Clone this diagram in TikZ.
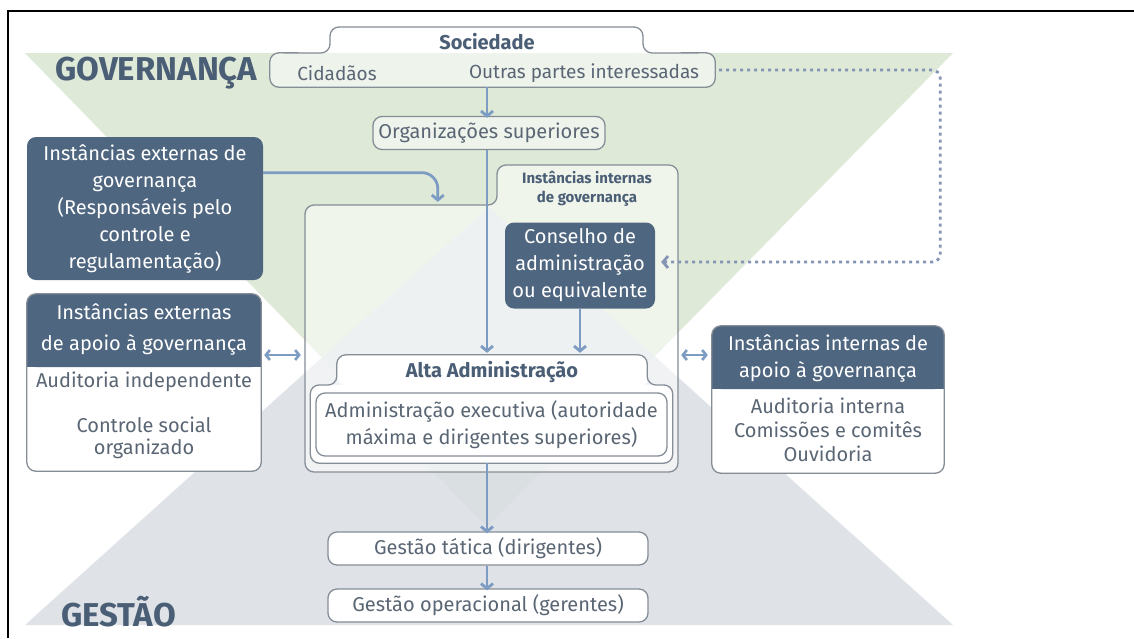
\documentclass[tikz,border=0pt]{standalone}
\usepackage{fontspec}
\setmainfont{Fira Sans}
\usetikzlibrary{arrows.meta,calc}

\definecolor{govgreen}{HTML}{DEE9D7}
\definecolor{gestgray}{HTML}{DADFE4}
\definecolor{slate}{HTML}{4F6680}
\definecolor{ink}{HTML}{4A5E75}
\definecolor{soft}{HTML}{5A6674}
\definecolor{edge}{HTML}{858D96}
\definecolor{flow}{HTML}{7C9CC3}
\definecolor{dots}{HTML}{8595B4}
\definecolor{pale}{HTML}{EEF3EC}

\tikzset{
  darkbox/.style={fill=slate, text=white, rounded corners=9pt, align=center,
    inner sep=0pt, font=\fontsize{20}{27}\selectfont},
  litebox/.style={draw=edge, line width=1.3pt, fill=white, rounded corners=9pt,
    inner sep=0pt, text=soft, align=center, font=\fontsize{20}{27}\selectfont},
  frameonly/.style={draw=none, inner sep=0pt},
  outline/.style={draw=edge, line width=1.3pt, rounded corners=9pt},
  lbl/.style={text=soft, inner sep=0pt, font=\fontsize{20}{24}\selectfont, align=center},
  boldlbl/.style={text=ink, inner sep=0pt, font=\bfseries\fontsize{20}{24}\selectfont, align=center},
  bigword/.style={text=ink, inner sep=0pt, font=\bfseries\fontsize{33}{34}\selectfont},
  flowarrow/.style={draw=flow, line width=2.8pt,
    -{Straight Barb[length=5pt,width=12pt]}},
  twoway/.style={draw=flow, line width=2.6pt,
    {Straight Barb[length=4pt,width=10pt]}-{Straight Barb[length=4pt,width=10pt]}},
  dotline/.style={draw=dots, line width=2.8pt, dash pattern=on 3pt off 4pt,
    rounded corners=8pt, -{Straight Barb[length=5pt,width=12pt]}},
}

\begin{document}
\begin{tikzpicture}[x=1pt,y=-1pt]
\useasboundingbox (0,0) rectangle (1134,638);
\fill[white] (0,0) rectangle (1134,638);

% background triangles: governance (down) and management (up)
\fill[govgreen] (25,53) -- (953,53) -- (487,527) -- cycle;
\fill[gestgray, fill opacity=0.85] (25,625) -- (953,625) -- (489,207) -- cycle;

% outer frame
\draw[black, line width=1.2pt] (8,638) -- (8,11) -- (1134,11);

\coordinate (spine) at (487,0);
\coordinate (lvl) at (0,355);

% big words
\node[bigword, anchor=west] (gov) at (55,73) {GOVERNANÇA};
\node[bigword, anchor=west] (gest) at (61,612) {GESTÃO};

% Sociedade
\node[frameonly, minimum width=445pt, minimum height=34pt] (socbox) at (492.5,70) {};
\fill[pale, rounded corners=9pt] (socbox.south west) rectangle (socbox.north east);
\fill[white, rounded corners=9pt] (330,53) -- (330,27) -- (643,27) -- (643,53) -- cycle;
\draw[outline] (socbox.south west) -- (socbox.north west) -- (330,53) -- (330,27)
  -- (643,27) -- (643,53) -- (socbox.north east) -- (socbox.south east) -- cycle;
\node[boldlbl] (soc) at (487,42) {Sociedade};
\node[lbl, font=\fontsize{19}{24}\selectfont] (cid) at (337,73) {Cidadãos};
\node[lbl, font=\fontsize{19}{24}\selectfont] (outras) at (584,73) {Outras partes interessadas};

% Organizações superiores
\node[litebox, fill=pale, minimum width=232pt, minimum height=33pt] (org) at (489,133)
  {Organizações superiores};

% internal governance container
\node[frameonly, minimum width=373pt, minimum height=307pt] (cont) at (491.5,318.5) {};
\fill[white, fill opacity=0.55, rounded corners=9pt]
  (305,472) -- (305,205) -- (497,205) -- (497,165) -- (678,165) -- (678,472) -- cycle;
\draw[outline]
  (305,472) -- (305,205) -- (497,205) -- (497,165) -- (678,165) -- (678,472) -- cycle;
\node[text=ink, inner sep=0pt, font=\bfseries\fontsize{15}{19}\selectfont, align=center]
  (intgov) at (587,189) {Instâncias internas\\de governança};

% Conselho
\node[darkbox, minimum width=150pt, minimum height=86pt] (cons) at (580,265.5)
  {Conselho de\\administração\\ou equivalente};

% external governance
\node[darkbox, minimum width=236pt, minimum height=143pt] (extgov) at (145,208.5)
  {Instâncias externas de\\governança\\(Responsáveis pelo\\controle e\\regulamentação)};

% Alta Administração
\node[frameonly, minimum width=362pt, minimum height=78pt] (alta) at (491.5,424) {};
\node[frameonly, minimum width=310pt, minimum height=30pt] (altatab) at (492,370) {};
\fill[white, rounded corners=9pt] (alta.south west) rectangle (alta.north east);
\fill[white, rounded corners=9pt] (altatab.south west) -- (altatab.north west)
  -- (altatab.north east) -- ([yshift=-3pt]altatab.south east) -- cycle;
\draw[outline] (alta.south west) -- (alta.north west) -- (altatab.south west) -- (altatab.north west)
  -- (altatab.north east) -- (altatab.south east) -- (alta.north east) -- (alta.south east) -- cycle;
\node[boldlbl] (altat) at (492,372) {Alta Administração};
\node[litebox, minimum width=351pt, minimum height=63pt] (exec) at (491.5,424.5)
  {Administração executiva (autoridade\\máxima e dirigentes superiores)};

% management levels
\node[litebox, minimum width=320pt, minimum height=33pt] (tat) at (488,548.5)
  {Gestão tática (dirigentes)};
\node[litebox, minimum width=320pt, minimum height=33pt] (oper) at (488,605.5)
  {Gestão operacional (gerentes)};

% external support box
\node[frameonly, minimum width=234pt, minimum height=177pt] (extsup) at (144,382.5) {};
\fill[white, rounded corners=9pt] (extsup.south west) rectangle (extsup.north east);
\fill[slate, rounded corners=9pt] (extsup.north west) -- (27,367) -- (261,367) -- (extsup.north east) -- cycle;
\fill[slate] (27,355) rectangle (261,367);
\draw[outline] (extsup.south west) rectangle (extsup.north east);
\node[text=white, inner sep=0pt, align=center, font=\fontsize{20}{31}\selectfont]
  (extsupt) at (144,329) {Instâncias externas\\de apoio à governança};
\node[lbl] (audind) at (144,382) {Auditoria independente};
\node[lbl, font=\fontsize{20}{22}\selectfont] (ctrl) at (144,438) {Controle social\\organizado};

% internal support box
\node[frameonly, minimum width=232pt, minimum height=147pt] (intsup) at (828,399.5) {};
\fill[white, rounded corners=9pt] (intsup.south west) rectangle (intsup.north east);
\fill[slate, rounded corners=9pt] (intsup.north west) -- (712,389) -- (944,389) -- (intsup.north east) -- cycle;
\fill[slate] (712,377) rectangle (944,389);
\draw[outline] (intsup.south west) rectangle (intsup.north east);
\node[text=white, inner sep=0pt, align=center, font=\fontsize{20}{27}\selectfont]
  (intsupt) at (828,358) {Instâncias internas de\\apoio à governança};
\node[lbl] (intsupl) at (828,430)
  {Auditoria interna\\Comissões e comitês\\Ouvidoria};

% connectors
\draw[flowarrow] (socbox.south -| spine) -- ([yshift=-2pt]org.north -| spine);
\draw[flowarrow] (org.south -| spine) -- ([yshift=2pt]altatab.north -| spine);
\draw[flowarrow] (cons.south) -- ([yshift=2pt]cons.south |- altatab.north);
\draw[flowarrow, rounded corners=16pt]
  ($(extgov.north east)!0.25!(extgov.south east)$) -| ($(cont.north west)+(133,37)$);
\draw[flowarrow] (alta.south -| spine) -- ([yshift=-2pt]tat.north -| spine);
\draw[flowarrow] (tat.south -| spine) -- ([yshift=-2pt]oper.north -| spine);
\draw[twoway] ([xshift=3pt]extsup.east |- lvl) -- ([xshift=-4pt]cont.west |- lvl);
\draw[twoway] ([xshift=3pt]cont.east |- lvl) -- ([xshift=-4pt]intsup.west |- lvl);
\draw[dotline] ([xshift=4pt]socbox.east) -| ($(cons.east)+(285,-3.5)$) -- ($(cons.east)+(6,-3.5)$);

\end{tikzpicture}
\end{document}
